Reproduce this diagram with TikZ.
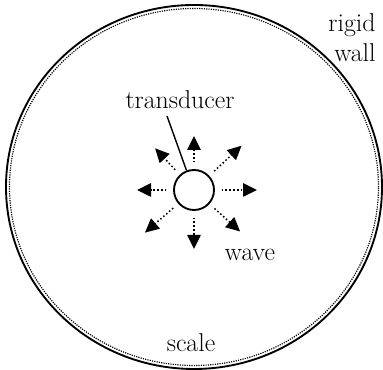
\documentclass[tikz,border=0pt]{standalone}
\usepackage{tikz}
\usetikzlibrary{arrows.meta}

\tikzset{
  wavearrow/.style={dotted, line width=1.3pt, shorten <=0.2cm,
    -{Triangle[length=0.42cm, width=0.4cm]}},
  lbl/.style={font=\fontsize{22}{26}\selectfont, inner sep=1pt}
}

\begin{document}
\begin{tikzpicture}[x=0.03cm, y=0.03cm]
		\useasboundingbox (0,0) rectangle (383,370);
		% rigid wall
		\draw[line width=1.6pt] (194,183) ellipse [x radius=188, y radius=182];
		\draw[densely dotted, line width=1pt] (194,183) ellipse [x radius=184.5, y radius=178.5];
		% transducer
		\node[circle, draw, line width=1.6pt, minimum size=1.2cm, inner sep=0pt] (trans) at (194,180) {};
		\foreach \a/\r in {0/63, 43/65, 90/54, 133/57, 180/57, 221/65, 270/59, 318/62} {
			\coordinate (w\a) at ([shift={(\a:\r)}]trans.center);
			\draw[wavearrow] (trans.\a) -- (w\a);
		}
		\node[lbl] (tlabel) at (180,270) {transducer};
		\coordinate (lead) at (167,254);
		\draw[line width=1.2pt] (lead) -- (trans.111);
		\node[lbl] (wave) at (250,115) {wave};
		\node[lbl] (rigid) at (352,345) {rigid};
		\node[lbl] (wall) at (355,317) {wall};
		\node[lbl] (scale) at (191,27) {scale};
	\end{tikzpicture}
\end{document}
